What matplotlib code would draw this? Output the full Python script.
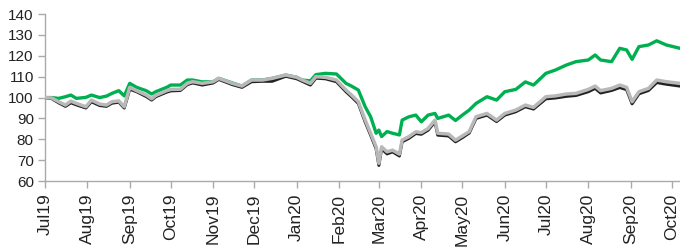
import matplotlib
matplotlib.use("Agg")
import matplotlib.pyplot as plt
import matplotlib.dates as mdates
import pandas as pd

# readings, index = 100 on 1 Jul 2019
dates = [
    "2019-07-01", "2019-07-06", "2019-07-11", "2019-07-16", "2019-07-20",
    "2019-07-24", "2019-07-31", "2019-08-04", "2019-08-10", "2019-08-15",
    "2019-08-19", "2019-08-24", "2019-08-28", "2019-09-01", "2019-09-06",
    "2019-09-13", "2019-09-17", "2019-09-20", "2019-09-28", "2019-10-01",
    "2019-10-08", "2019-10-13", "2019-10-17", "2019-10-24", "2019-11-01",
    "2019-11-05", "2019-11-15", "2019-11-22", "2019-11-29", "2019-12-07",
    "2019-12-14", "2019-12-24", "2020-01-01", "2020-01-05", "2020-01-11",
    "2020-01-15", "2020-01-22", "2020-01-30", "2020-02-06", "2020-02-10",
    "2020-02-15", "2020-02-20", "2020-02-24", "2020-02-28", "2020-03-01",
    "2020-03-03", "2020-03-07", "2020-03-11", "2020-03-16", "2020-03-18",
    "2020-03-23", "2020-03-28", "2020-04-01", "2020-04-06", "2020-04-11",
    "2020-04-13", "2020-04-21", "2020-04-26", "2020-05-01", "2020-05-06",
    "2020-05-11", "2020-05-19", "2020-05-26", "2020-06-01", "2020-06-09",
    "2020-06-16", "2020-06-22", "2020-07-01", "2020-07-08", "2020-07-16",
    "2020-07-23", "2020-08-01", "2020-08-06", "2020-08-10", "2020-08-18",
    "2020-08-24", "2020-08-29", "2020-09-02", "2020-09-07", "2020-09-14",
    "2020-09-20", "2020-09-27", "2020-10-07",
]

green = [
    100, 100, 99.6, 100.4, 101.2, 99.6, 100.1, 101.2, 100, 100.7,
    102, 103.3, 100.8, 106.8, 104.9, 103.3, 101.7, 102.8, 104.9, 106,
    106, 108.4, 108.4, 107.5, 107.6, 109.2, 107, 105.5, 108.4, 108.4,
    109.2, 110.8, 109.7, 108.4, 108, 111, 111.6, 111.3, 106.8, 105.5,
    103.6, 95.6, 90.8, 82.9, 84.4, 81.3, 83.7, 82.9, 82.1, 89.2,
    90.8, 91.6, 88.4, 91.6, 92.4, 90, 91.6, 89, 91.6, 94,
    97.2, 100.4, 98.8, 102.8, 103.9, 107.5, 106, 111.6, 113.2, 115.6,
    117.2, 118, 120.4, 118, 117.2, 123.6, 122.8, 118.3, 124.4, 125.2,
    127.2, 125.2, 123.6,
]

grey = [
    100, 99.8, 98, 96.4, 98.3, 97.2, 95.6, 98.8, 96.9, 96.4,
    98, 98.4, 95.6, 104.9, 103.3, 101.2, 99.4, 101, 103.3, 103.9,
    104, 106.8, 107.6, 106.8, 107.6, 109.2, 106.8, 105.5, 108.4, 108.4,
    109.2, 110.8, 109.7, 108.4, 106.8, 110, 109.7, 108.4, 103.6, 101.2,
    98, 89.2, 82.9, 76.4, 68.5, 76.4, 74, 74.8, 72.9, 79.6,
    81.3, 83.6, 83.2, 85.2, 89.2, 82.9, 82.5, 79.6, 81.6, 83.7,
    90.8, 92.4, 89.2, 92.4, 94, 96.4, 95.3, 100.4, 100.8, 101.7,
    102, 103.9, 105.5, 103.3, 104.4, 106, 104.9, 98, 102.8, 104.4,
    108.4, 107.6, 106.8,
]

black = [
    100, 99.5, 97.5, 95.8, 97.5, 96.5, 95, 98, 96.2, 95.8,
    97.3, 97.8, 95, 104, 102.8, 100.5, 98.8, 100.4, 102.6, 103.2,
    103.4, 106.2, 107, 106, 107, 108.7, 106.2, 104.9, 107.6, 107.8,
    107.8, 110.2, 109, 107.8, 106, 109.3, 109, 107.6, 102.8, 100.4,
    97.2, 88.3, 82, 75.5, 67.5, 75.5, 73, 74, 72, 78.8,
    80.5, 82.8, 82.4, 84.4, 88.4, 82, 81.6, 78.8, 80.8, 83,
    90, 91.6, 88.5, 91.6, 93.2, 95.6, 94.5, 99.4, 99.8, 100.6,
    101, 102.8, 104.4, 102.2, 103.4, 104.8, 103.8, 97, 101.8, 103.4,
    107.2, 106.4, 105.5,
]

x = pd.to_datetime(dates)

plt.rcParams["font.family"] = ["Liberation Sans", "DejaVu Sans"]

fig = plt.figure(figsize=(6.8, 2.47), dpi=100)
ax = fig.add_axes([0.066, 0.267, 0.934, 0.676])

ax.plot(x, green, color="#00b050", lw=2.4, zorder=2)
ax.plot(x, black, color="#222222", lw=2.2, zorder=3)
ax.plot(x, grey, color="#b8b8b8", lw=2.5, zorder=4)

ax.set_ylim(60, 140)
ax.set_yticks(range(60, 141, 10))
ax.set_xlim(pd.Timestamp("2019-07-01"), pd.Timestamp("2020-10-07"))
ax.xaxis.set_major_locator(mdates.MonthLocator())
ax.xaxis.set_major_formatter(mdates.DateFormatter("%b%y"))

for s in ["top", "right"]:
    ax.spines[s].set_visible(False)
for s in ["left", "bottom"]:
    ax.spines[s].set_color("#aaaaaa")
    ax.spines[s].set_linewidth(1.0)

ax.tick_params(axis="both", colors="#aaaaaa", labelcolor="#222222",
               length=5, width=1.0)
ax.tick_params(axis="x", labelrotation=90, labelsize=12.5, pad=4)
ax.tick_params(axis="y", labelsize=11, pad=3)

fig.savefig("out.png", dpi=100)
